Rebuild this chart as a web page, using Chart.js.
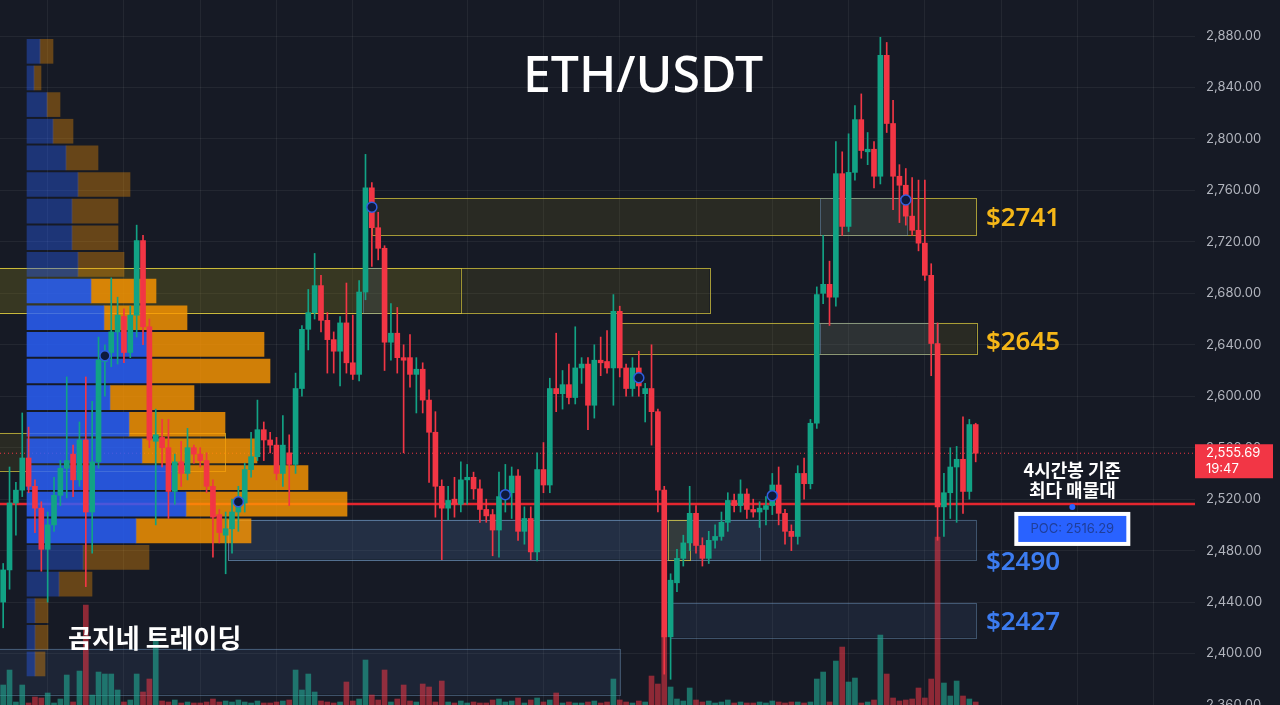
<!DOCTYPE html>
<html>
<head>
<meta charset="utf-8">
<script src="https://cdn.jsdelivr.net/npm/chart.js@4.4.1/dist/chart.umd.min.js"></script>
<style>
  html, body { margin: 0; padding: 0; background: #161a25; overflow: hidden; }
  #wrap { position: relative; width: 1280px; height: 705px; }
</style>
</head>
<body>
<div id="wrap"><canvas id="chart" width="1280" height="705"></canvas></div>
<script>
// 4h candles, ETH/USDT
const opens = [
    2440, 2465, 2517, 2527, 2552, 2530, 2513, 2481, 2500, 2523, 2544, 2555, 2535, 2566, 2510, 2549, 2627, 2634, 2650, 2662,
    2634, 2663, 2721, 2654, 2565, 2568, 2560, 2526, 2549, 2540, 2560, 2555, 2550, 2530, 2508, 2492, 2497, 2510, 2517, 2543,
    2553, 2574, 2566, 2562, 2540, 2556, 2547, 2606, 2652, 2665, 2686, 2659, 2644, 2635, 2657, 2626, 2617, 2681, 2762, 2731,
    2715, 2642, 2649, 2630, 2630, 2617, 2621, 2597, 2572, 2530, 2513, 2520, 2516, 2535, 2537, 2528, 2512, 2508, 2496, 2520,
    2525, 2538, 2495, 2505, 2479, 2543, 2531, 2606, 2602, 2609, 2599, 2622, 2625, 2593, 2628, 2627, 2622, 2666, 2622, 2606,
    2622, 2602, 2606, 2588, 2527, 2413, 2455, 2474, 2486, 2509, 2484, 2474, 2488, 2491, 2502, 2519, 2515, 2524, 2512, 2510,
    2512, 2515, 2531, 2509, 2495, 2491, 2540, 2532, 2579, 2680, 2687, 2677, 2773, 2732, 2774, 2815, 2790, 2792, 2771, 2865,
    2812, 2771, 2764, 2740, 2729, 2719, 2694, 2641, 2514, 2525, 2545, 2551, 2526, 2578,
];
const highs = [
    2470, 2545, 2533, 2587, 2576, 2535, 2518, 2510, 2537, 2550, 2615, 2562, 2580, 2615, 2596, 2646, 2640, 2692, 2677, 2668,
    2670, 2733, 2725, 2660, 2590, 2582, 2582, 2555, 2565, 2575, 2562, 2560, 2556, 2535, 2512, 2510, 2520, 2530, 2548, 2572,
    2597, 2580, 2572, 2568, 2585, 2570, 2618, 2655, 2683, 2711, 2694, 2665, 2650, 2662, 2688, 2663, 2690, 2788, 2766, 2743,
    2717, 2672, 2669, 2640, 2648, 2630, 2626, 2605, 2588, 2535, 2530, 2537, 2549, 2547, 2541, 2535, 2520, 2512, 2541, 2547,
    2545, 2543, 2514, 2514, 2556, 2564, 2614, 2649, 2620, 2625, 2654, 2630, 2630, 2640, 2646, 2651, 2679, 2670, 2625, 2630,
    2635, 2610, 2640, 2590, 2530, 2462, 2481, 2492, 2530, 2515, 2490, 2495, 2500, 2510, 2525, 2524, 2535, 2528, 2520, 2518,
    2522, 2540, 2545, 2512, 2500, 2546, 2552, 2582, 2685, 2725, 2705, 2798, 2790, 2804, 2826, 2835, 2805, 2798, 2879, 2875,
    2830, 2780, 2777, 2770, 2768, 2768, 2703, 2657, 2540, 2560, 2561, 2584, 2582, 2579,
];
const lows = [
    2420, 2450, 2492, 2522, 2525, 2494, 2464, 2440, 2495, 2515, 2521, 2522, 2530, 2452, 2478, 2544, 2600, 2623, 2625, 2626,
    2630, 2646, 2640, 2560, 2500, 2545, 2505, 2516, 2530, 2535, 2548, 2545, 2525, 2475, 2486, 2462, 2478, 2495, 2510, 2537,
    2550, 2550, 2556, 2535, 2530, 2515, 2540, 2600, 2636, 2660, 2650, 2618, 2618, 2608, 2618, 2613, 2612, 2675, 2701, 2706,
    2620, 2628, 2618, 2556, 2607, 2587, 2587, 2533, 2506, 2473, 2504, 2506, 2510, 2516, 2520, 2502, 2502, 2476, 2475, 2510,
    2505, 2488, 2485, 2473, 2472, 2525, 2525, 2588, 2590, 2594, 2594, 2610, 2574, 2583, 2616, 2618, 2593, 2615, 2600, 2600,
    2600, 2580, 2562, 2510, 2384, 2380, 2448, 2468, 2480, 2478, 2468, 2470, 2482, 2488, 2495, 2510, 2510, 2505, 2506, 2498,
    2500, 2508, 2500, 2485, 2480, 2485, 2520, 2528, 2575, 2672, 2655, 2670, 2725, 2728, 2768, 2785, 2780, 2762, 2765, 2805,
    2745, 2735, 2733, 2725, 2713, 2690, 2616, 2488, 2491, 2505, 2502, 2509, 2520, 2549,
];
const closes = [
    2465, 2517, 2527, 2552, 2530, 2513, 2481, 2500, 2523, 2544, 2550, 2535, 2566, 2510, 2549, 2628, 2634, 2650, 2663, 2634,
    2663, 2721, 2654, 2566, 2570, 2560, 2526, 2549, 2540, 2560, 2555, 2550, 2530, 2506, 2494, 2497, 2510, 2517, 2543, 2553,
    2574, 2566, 2562, 2540, 2562, 2547, 2606, 2652, 2665, 2686, 2659, 2644, 2635, 2657, 2626, 2617, 2681, 2762, 2731, 2715,
    2642, 2649, 2630, 2628, 2617, 2621, 2597, 2572, 2530, 2513, 2519, 2516, 2535, 2537, 2528, 2512, 2507, 2496, 2522, 2526,
    2538, 2495, 2505, 2479, 2543, 2531, 2606, 2602, 2609, 2599, 2622, 2625, 2593, 2628, 2626, 2622, 2666, 2622, 2606, 2622,
    2608, 2606, 2588, 2527, 2413, 2457, 2474, 2486, 2509, 2484, 2474, 2488, 2491, 2502, 2519, 2515, 2524, 2512, 2510, 2513,
    2515, 2531, 2509, 2495, 2491, 2540, 2532, 2579, 2679, 2687, 2677, 2773, 2732, 2774, 2815, 2791, 2792, 2771, 2865, 2812,
    2771, 2764, 2740, 2729, 2719, 2694, 2641, 2514, 2525, 2545, 2551, 2526, 2578, 2555.69,
];
const volumes = [
    20, 35, 3, 20, 2, 8, 7, 12, 2, 6, 30, 3, 34, 100, 10, 33, 31, 31, 15, 3, 5, 31, 13, 26, 65,
    4, 3, 5, 2, 3, 2, 2, 3, 6, 3, 4, 3, 5, 3, 2, 4, 2, 2, 3, 4, 5,
    35, 15, 31, 13, 4, 3, 2, 3, 23, 4, 6, 45, 10, 5, 35, 3, 6, 20, 4, 3, 21, 18, 3, 24,
    3, 2, 4, 2, 3, 2, 2, 5, 6, 3, 4, 7, 2, 5,
    7, 3, 5, 12, 2, 3, 2, 2, 3, 4, 2, 3, 26, 5, 3, 2, 4, 3, 29, 21, 75, 18,
    6, 4, 17, 5, 3, 4, 2, 3, 5, 2, 3, 2, 2, 3, 2, 4, 3, 2, 3, 3, 2, 3,
    26, 33, 3, 44, 58, 23, 27, 2, 3, 5, 70, 31, 7, 4, 5, 6, 17, 7, 26, 168, 22, 9, 24, 9, 6, 3,
];

// Visible range volume profile (24 rows)
const profileLevels = [
    2868.1, 2847.4, 2826.7, 2806.0, 2785.3, 2764.6, 2743.9, 2723.2, 2702.5, 2681.8, 2661.0, 2640.3,
    2619.6, 2598.9, 2578.2, 2557.5, 2536.8, 2516.1, 2495.4, 2474.7, 2454.0, 2433.3, 2412.6, 2391.9,
];
const profileBuy = [13, 7, 20, 26, 39, 51, 45, 45, 51, 64, 77, 120, 120, 83, 102, 115, 148, 159, 109, 56, 32, 8, 8, 8];
const profileSell = [13, 7, 13, 20, 32, 52, 46, 46, 46, 65, 83, 117, 123, 84, 96, 115, 133, 161, 115, 66, 33, 13, 13, 10];
const valueAreaRows = [9, 18];

const pocPrice = 2516.29;
const lastPrice = 2555.69;
const lastTime = '19:47';

const markerIdx = [16, 58, 37, 79, 100, 121, 142];
const markerPrice = [2631.5, 2747, 2518, 2523.5, 2614.4, 2522.7, 2752.6];

// supply / demand boxes: candle index range + price range
const zones = [
    { from: -1.5, to: 71.9, lo: 2664.9, hi: 2699.8, kind: 'y' },
    { from: -1.5, to: 111.1, lo: 2664.9, hi: 2699.8, kind: 'y' },
    { from: 58.0, to: 153.1, lo: 2725.4, hi: 2754.2, kind: 'y' },
    { from: 97.0, to: 153.1, lo: 2633.0, hi: 2657.1, kind: 'y' },
    { from: -1.5, to: 34.9, lo: 2542.1, hi: 2571.6, kind: 'y' },
    { from: 35.4, to: 153.1, lo: 2473.0, hi: 2504.1, kind: 'b' },
    { from: 35.4, to: 119.1, lo: 2473.0, hi: 2504.1, kind: 'b' },
    { from: 104.6, to: 108.1, lo: 2473.0, hi: 2504.1, kind: 'y' },
    { from: 104.9, to: 153.1, lo: 2412.4, hi: 2439.6, kind: 'b' },
    { from: -1.5, to: 97.05, lo: 2368.2, hi: 2403.9, kind: 'b' },
    { from: 56.6, to: 59.6, lo: 2664.9, hi: 2699.8, kind: 'b' },
    { from: 128.5, to: 142.2, lo: 2725.4, hi: 2754.2, kind: 'b' },
    { from: 128.5, to: 147.1, lo: 2633.0, hi: 2657.1, kind: 'b' },
];
const levelLabels = ['$2741', '$2645', '$2490', '$2427'];
const levelLabelPrices = [2741, 2645, 2474, 2427];
const levelLabelColors = ['#f5b718', '#f5b718', '#3c7cf0', '#3c7cf0'];

// vertical grid positions (candle index)
const gridAt = [7, 19, 31, 43, 55, 73, 85, 97, 109, 121, 133, 145, 157, 169, 181];
const slots = 188;

const GREEN = '#12a385';
const RED = '#f23645';

const idx = closes.map((_, i) => i);
const isUp = (i) => closes[i] >= opens[i];
const candleColor = idx.map((i) => (isUp(i) ? GREEN : RED));
const volumeColor = idx.map((i) => (isUp(i) ? 'rgba(34,171,148,0.6)' : 'rgba(242,54,69,0.55)'));
const inVA = (k) => k >= valueAreaRows[0] && k <= valueAreaRows[1];
const vpMax = Math.max(...profileBuy.map((b, k) => b + profileSell[k]));

const overlay = {
    id: 'overlay',
    beforeDatasetsDraw(chart) {
        const { ctx, scales: { x, y } } = chart;
        ctx.save();
        zones.forEach((z) => {
            const x0 = x.getPixelForValue(z.from);
            const x1 = x.getPixelForValue(z.to);
            const y0 = y.getPixelForValue(z.hi);
            const y1 = y.getPixelForValue(z.lo);
            ctx.fillStyle = z.kind === 'y' ? 'rgba(125,115,30,0.18)' : 'rgba(70,100,145,0.16)';
            ctx.fillRect(x0, y0, x1 - x0, y1 - y0);
            ctx.strokeStyle = z.kind === 'y' ? 'rgba(214,198,62,0.75)' : 'rgba(110,150,190,0.45)';
            ctx.lineWidth = 1;
            ctx.strokeRect(Math.round(x0) + 0.5, Math.round(y0) + 0.5, Math.round(x1 - x0), Math.round(y1 - y0));
        });
        ctx.restore();
    },
    afterDraw(chart) {
        const { ctx, chartArea, scales: { x, y } } = chart;
        ctx.save();

        // title + watermark
        ctx.fillStyle = '#ffffff';
        ctx.textAlign = 'center';
        ctx.textBaseline = 'middle';
        ctx.font = '500 50px "Noto Sans"';
        ctx.fillText('ETH/USDT', chartArea.left + 643, 78);
        ctx.textAlign = 'left';
        ctx.font = 'bold 26px "Noto Sans CJK KR"';
        ctx.fillText('곰지네 트레이딩', chartArea.left + 68, 638);

        // level labels to the right of the boxes
        ctx.font = '600 26px "Noto Sans"';
        const lx = x.getPixelForValue(154.6);
        levelLabels.forEach((t, k) => {
            ctx.fillStyle = levelLabelColors[k];
            ctx.fillText(t, lx, y.getPixelForValue(levelLabelPrices[k]) + 4);
        });

        // POC callout
        const px = x.getPixelForValue(168.2);
        const py = y.getPixelForValue(pocPrice);
        ctx.textAlign = 'center';
        ctx.fillStyle = '#ffffff';
        ctx.font = 'bold 18px "Noto Sans CJK KR"';
        ctx.fillText('4시간봉 기준', px, py - 34);
        ctx.fillText('최다 매물대', px, py - 14);
        ctx.fillStyle = '#2962ff';
        ctx.beginPath();
        ctx.arc(px, py + 3, 3, 0, Math.PI * 2);
        ctx.fill();
        ctx.fillStyle = '#ffffff';
        ctx.fillRect(px - 58, py + 8, 116, 34);
        ctx.fillStyle = '#2962ff';
        ctx.fillRect(px - 54, py + 12, 108, 26);
        ctx.fillStyle = '#1f3e99';
        ctx.font = '13px Inter';
        ctx.fillText('POC: ' + pocPrice.toFixed(2), px, py + 25);

        // last price tag on the axis
        const ty = y.getPixelForValue(lastPrice);
        ctx.fillStyle = RED;
        ctx.fillRect(chartArea.right, ty - 9, 78, 34);
        ctx.fillStyle = '#ffffff';
        ctx.textAlign = 'left';
        ctx.font = '13px Inter';
        ctx.fillText(lastPrice.toLocaleString('en-US', { minimumFractionDigits: 2 }), chartArea.right + 11, ty);
        ctx.fillText(lastTime, chartArea.right + 11, ty + 16);
        ctx.restore();
    },
};

const flatLine = (price) => [{ x: -0.5, y: price }, { x: slots - 0.5, y: price }];

new Chart(document.getElementById('chart'), {
    type: 'bar',
    data: {
        datasets: [
            {
                type: 'line',
                data: markerIdx.map((i, k) => ({ x: i, y: markerPrice[k] })),
                showLine: false,
                pointRadius: 5,
                pointBackgroundColor: '#0e1a3d',
                pointBorderColor: '#2f5fe0',
                pointBorderWidth: 1.5,
                order: 0,
            },
            {
                data: idx.map((i) => ({ x: i, y: [lows[i], highs[i]] })),
                backgroundColor: candleColor,
                barThickness: 1,
                grouped: false,
                order: 1,
            },
            {
                data: idx.map((i) => ({ x: i, y: [opens[i], closes[i]] })),
                backgroundColor: candleColor,
                barThickness: 5,
                minBarLength: 1,
                grouped: false,
                order: 1,
            },
            {
                indexAxis: 'y',
                xAxisID: 'xp',
                yAxisID: 'y',
                data: profileLevels.map((p, k) => ({ y: p, x: [0, profileBuy[k]] })),
                backgroundColor: profileLevels.map((_, k) => (inVA(k) ? 'rgba(41,98,255,0.82)' : 'rgba(41,98,255,0.38)')),
                barThickness: 24,
                grouped: false,
                order: 2,
            },
            {
                indexAxis: 'y',
                xAxisID: 'xp',
                yAxisID: 'y',
                data: profileLevels.map((p, k) => ({ y: p, x: [profileBuy[k], profileBuy[k] + profileSell[k]] })),
                backgroundColor: profileLevels.map((_, k) => (inVA(k) ? 'rgba(255,152,0,0.8)' : 'rgba(255,152,0,0.35)')),
                barThickness: 24,
                grouped: false,
                order: 2,
            },
            {
                type: 'line',
                data: flatLine(pocPrice),
                borderColor: '#e5262f',
                borderWidth: 2.5,
                pointRadius: 0,
                order: 3,
            },
            {
                type: 'line',
                data: flatLine(lastPrice),
                borderColor: RED,
                borderWidth: 1,
                borderDash: [1, 3],
                pointRadius: 0,
                order: 3,
            },
            {
                yAxisID: 'yv',
                data: idx.map((i) => ({ x: i, y: volumes[i] })),
                backgroundColor: volumeColor,
                barThickness: 5,
                grouped: false,
                order: 4,
            },
        ],
    },
    options: {
        responsive: false,
        animation: false,
        devicePixelRatio: 1,
        events: [],
        layout: { padding: 0, autoPadding: false },
        plugins: { legend: { display: false }, tooltip: { enabled: false } },
        scales: {
            x: {
                type: 'linear',
                min: -0.5,
                max: slots - 0.5,
                offset: false,
                afterBuildTicks: (s) => { s.ticks = gridAt.map((v) => ({ value: v })); },
                afterFit: (s) => { s.height = 0; s.paddingLeft = 0; s.paddingRight = 0; },
                grid: { color: 'rgba(255,255,255,0.06)', drawTicks: false, offset: false },
                border: { display: false },
                ticks: { display: false },
            },
            y: {
                type: 'linear',
                position: 'right',
                min: 2360,
                max: 2908,
                offset: false,
                beginAtZero: false,
                afterFit: (s) => { s.width = 85; s.paddingTop = 0; s.paddingBottom = 0; },
                grid: { color: 'rgba(255,255,255,0.06)', drawTicks: false, offset: false },
                border: { display: false },
                ticks: {
                    stepSize: 40,
                    includeBounds: false,
                    padding: 11,
                    color: '#b2b5be',
                    font: { family: 'Inter', size: 13 },
                    callback: (v) => v.toLocaleString('en-US', { minimumFractionDigits: 2, maximumFractionDigits: 2 }),
                },
            },
            xp: {
                type: 'linear',
                display: false,
                offset: false,
                min: -vpMax * 27 / 320,
                max: vpMax * 1168 / 320,
            },
            yv: {
                type: 'linear',
                display: false,
                offset: false,
                min: 0,
                max: Math.max(...volumes) * 4.2,
            },
        },
    },
    plugins: [overlay],
});
</script>
</body>
</html>
